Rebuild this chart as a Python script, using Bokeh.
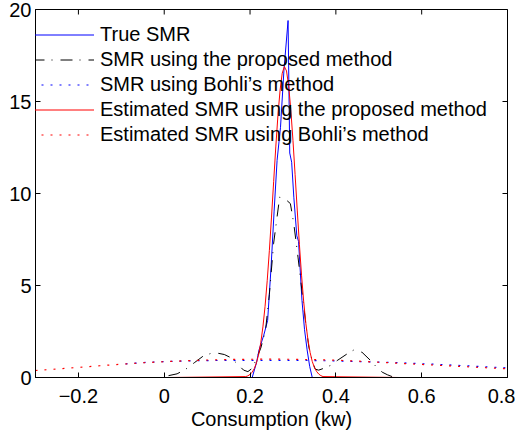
from bokeh.plotting import figure
from bokeh.models import Range1d, FixedTicker, Legend, LegendItem
from bokeh.embed import file_html
from bokeh.resources import INLINE

# ---- data ----
true_x = [0.205, 0.215, 0.221, 0.232, 0.241, 0.249, 0.256, 0.263, 0.271, 0.279, 0.2886,
          0.2925, 0.297, 0.302, 0.309, 0.313, 0.315, 0.321, 0.327, 0.333, 0.339, 0.345]
true_y = [0.0, 0.8, 1.5, 2.3, 3.1, 6.0, 9.0, 11.8, 13.6, 16.7, 19.4,
          12.2, 11.7, 9.8, 7.7, 7.4, 6.6, 4.2, 2.6, 1.5, 0.6, 0.0]

prop_x = [0.01, 0.03, 0.05, 0.07, 0.09, 0.11, 0.125, 0.14, 0.155, 0.17, 0.185, 0.195,
          0.205, 0.215, 0.225, 0.236, 0.245, 0.255, 0.269, 0.282, 0.294, 0.302, 0.312,
          0.321, 0.33, 0.337, 0.345, 0.352, 0.36, 0.372, 0.387, 0.403, 0.426, 0.442,
          0.461, 0.481, 0.495, 0.508, 0.52, 0.531]
prop_y = [0.1, 0.2, 0.45, 0.8, 1.15, 1.32, 1.32, 1.25, 1.08, 0.75, 0.4, 0.32,
          0.5, 1.0, 1.6, 2.55, 4.5, 7.3, 9.8, 9.7, 9.45, 8.35, 6.5,
          4.7, 2.9, 1.65, 0.9, 0.45, 0.4, 0.5, 0.65, 0.92, 1.28, 1.5,
          1.37, 0.92, 0.56, 0.29, 0.15, 0.05]

bohli_x = [-0.09, -0.05, 0.0, 0.05, 0.1, 0.15, 0.2, 0.25, 0.3, 0.35, 0.4, 0.45,
           0.5, 0.55, 0.6, 0.65, 0.7, 0.75, 0.8]
bohli_y = [0.74, 0.81, 0.87, 0.9, 0.92, 0.93, 0.93, 0.93, 0.93, 0.92, 0.9, 0.87,
           0.84, 0.8, 0.75, 0.7, 0.64, 0.58, 0.52]

est_x = [0.01, 0.19, 0.195, 0.2, 0.205, 0.21, 0.215, 0.22, 0.225, 0.23, 0.235, 0.24,
         0.245, 0.25, 0.255, 0.26, 0.265, 0.27, 0.275, 0.28, 0.285, 0.29, 0.295,
         0.3, 0.305, 0.31, 0.315, 0.32, 0.325, 0.33, 0.335, 0.34, 0.345, 0.35,
         0.355, 0.36, 0.365, 0.37, 0.55]
est_y = [0.0, 0.05, 0.09, 0.17, 0.29, 0.49, 0.8, 1.25, 1.89, 2.75, 3.87, 5.26,
         6.89, 8.72, 10.64, 12.53, 14.24, 15.62, 16.54, 16.9, 16.66, 15.85, 14.55,
         12.89, 11.02, 9.1, 7.24, 5.56, 4.13, 2.95, 2.04, 1.36, 0.87, 0.54,
         0.33, 0.19, 0.1, 0.05, 0.0]

estb_x = [-0.3, -0.25, -0.2, -0.15, -0.1, -0.05, 0.0, 0.05, 0.1, 0.15, 0.2, 0.25,
          0.3, 0.35, 0.4, 0.45, 0.5, 0.55, 0.6, 0.65, 0.7, 0.75, 0.8]
estb_y = [0.38, 0.46, 0.55, 0.64, 0.72, 0.8, 0.86, 0.91, 0.95, 0.98, 0.99, 1.0,
          0.99, 0.97, 0.94, 0.89, 0.83, 0.77, 0.71, 0.65, 0.59, 0.53, 0.47]

labels = ["True SMR",
          "SMR using the proposed method",
          "SMR using Bohli\u2019s method",
          "Estimated SMR using the proposed method",
          "Estimated SMR using Bohli\u2019s method"]

x_ticks = [-0.2, 0, 0.2, 0.4, 0.6, 0.8]
x_tick_labels = ["\u22120.2", "0", "0.2", "0.4", "0.6", "0.8"]
y_ticks = [0, 5, 10, 15, 20]
x_min, x_max = -0.3, 0.8
y_min, y_max = 0, 20

FONT = "Liberation Sans"

p = figure(width=515, height=435, output_backend="svg", toolbar_location=None,
           x_range=Range1d(x_min, x_max), y_range=Range1d(y_min, y_max),
           min_border_left=35, min_border_top=9, min_border_right=8,
           min_border_bottom=58, x_axis_label="Consumption (kw)",
           margin=(0, 0, -1, 0))
p.grid.visible = False
p.outline_line_color = "black"
p.background_fill_color = "white"
p.border_fill_color = "white"

for ax in p.xaxis + p.yaxis:
    ax.major_tick_in = 5
    ax.major_tick_out = 0
    ax.minor_tick_line_color = None
    ax.axis_line_color = "black"
    ax.major_tick_line_color = "black"
    ax.major_label_text_font = FONT
    ax.major_label_text_font_size = "20px"
    ax.major_label_text_color = "black"
    ax.axis_label_text_font = FONT
    ax.axis_label_text_font_size = "20px"
    ax.axis_label_text_font_style = "normal"
    ax.axis_label_text_color = "black"

p.xaxis.ticker = FixedTicker(ticks=x_ticks)
p.xaxis.major_label_overrides = {t: l for t, l in zip(x_ticks, x_tick_labels)}
p.xaxis.major_label_standoff = 11
p.xaxis.axis_label_standoff = 2
p.yaxis.ticker = FixedTicker(ticks=y_ticks)
p.yaxis.major_label_standoff = 4

r1 = p.line(true_x, true_y, line_color="#0000FF", line_width=1)
r2 = p.line(prop_x, prop_y, line_color="black", line_width=1, line_dash="12 7 1 8")
r3 = p.line(bohli_x, bohli_y, line_color="#0000FF", line_width=1.2, line_dash="2 7")
r4 = p.line(est_x, est_y, line_color="#FF0000", line_width=1)
r5 = p.line(estb_x, estb_y, line_color="#FF0000", line_width=1.2, line_dash="2 7")

# box ticks on the top and right edges (half of each dash is clipped by the frame)
p.scatter(x=x_ticks, y=[y_max] * len(x_ticks), marker="dash", angle=1.5707963,
          size=10, line_color="black", line_width=1)
p.scatter(x=[x_max] * len(y_ticks), y=y_ticks, marker="dash",
          size=10, line_color="black", line_width=1)

legend = Legend(items=[LegendItem(label=l, renderers=[r]) for l, r in
                       zip(labels, [r1, r2, r3, r4, r5])],
                location=(-3, 230), padding=0, margin=0, spacing=0,
                glyph_width=62, glyph_height=25, label_height=25, label_standoff=6,
                label_text_font=FONT, label_text_font_size="20px",
                label_text_color="black",
                border_line_color=None, background_fill_alpha=0)
p.add_layout(legend)

open("out.html", "w").write(file_html(p, INLINE))
